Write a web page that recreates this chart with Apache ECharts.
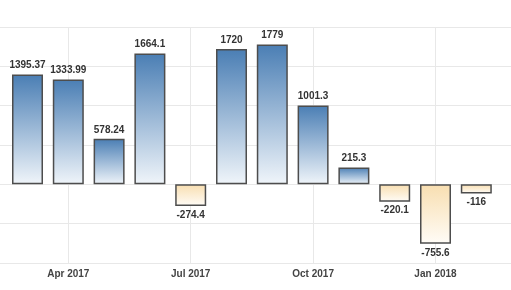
<!DOCTYPE html>
<html>
<head>
<meta charset="utf-8">
<script src="https://cdn.jsdelivr.net/npm/echarts@6/dist/echarts.min.js"></script>
<style>html,body{margin:0;padding:0;background:#fff}#c{width:511px;height:290px}</style>
</head>
<body>
<div id="c"></div>
<script>
const months = ['Mar 2017','Apr 2017','May 2017','Jun 2017','Jul 2017','Aug 2017','Sep 2017','Oct 2017','Nov 2017','Dec 2017','Jan 2018','Feb 2018'];
const values = [1395.37, 1333.99, 578.24, 1664.1, -274.4, 1720, 1779, 1001.3, 215.3, -220.1, -755.6, -116];
const shownLabels = ['Apr 2017','Jul 2017','Oct 2017','Jan 2018'];
const yMin = -1000, yMax = 2000, yStep = 500;

const posGrad = new echarts.graphic.LinearGradient(0,0,0,1,[{offset:0,color:'#4a7eb4'},{offset:1,color:'#f0f5fa'}]);
const negGrad = new echarts.graphic.LinearGradient(0,0,0,1,[{offset:0,color:'#f8deb0'},{offset:1,color:'#fffcf7'}]);

const chart = echarts.init(document.getElementById('c'), null, {renderer:'canvas'});
const gTop = 27, gBottom = 27;
chart.setOption({
  animation:false,
  grid:[
    {left:0,right:0,top:gTop,bottom:gBottom},
    {left:27.5,right:34.7,top:gTop,bottom:gBottom}
  ],
  xAxis:[
    {gridIndex:0,type:'value',min:0,max:1,show:false},
    {gridIndex:1,type:'category',data:months,boundaryGap:false,
     axisLine:{show:false},axisTick:{show:false},
     axisLabel:{interval:(i,v)=>shownLabels.includes(v),color:'#444',fontSize:10,fontWeight:'bold',fontFamily:'Liberation Sans, Arial',margin:6},
     splitLine:{show:true,interval:(i,v)=>shownLabels.includes(v),lineStyle:{color:'#e8e8e8',width:1}}}
  ],
  yAxis:[
    {gridIndex:0,type:'value',min:yMin,max:yMax,interval:yStep,axisLabel:{show:false},axisLine:{show:false},axisTick:{show:false},
     splitLine:{show:true,lineStyle:{color:'#e8e8e8',width:1}}},
    {gridIndex:1,type:'value',min:yMin,max:yMax,interval:yStep,show:false,splitLine:{show:false}}
  ],
  series:[{
    type:'bar',xAxisIndex:1,yAxisIndex:1,clip:false,barWidth:31,
    data:values.map(v=>({value:v,
      itemStyle:{color:v>=0?posGrad:negGrad,borderColor:'#4d4d4d',borderWidth:1.5},
      label:{position:v>=0?'top':'bottom'}})),
    label:{show:true,distance:4,color:'#333',fontSize:10,fontWeight:'bold',fontFamily:'Liberation Sans, Arial'}
  }]
});
</script>
</body>
</html>
